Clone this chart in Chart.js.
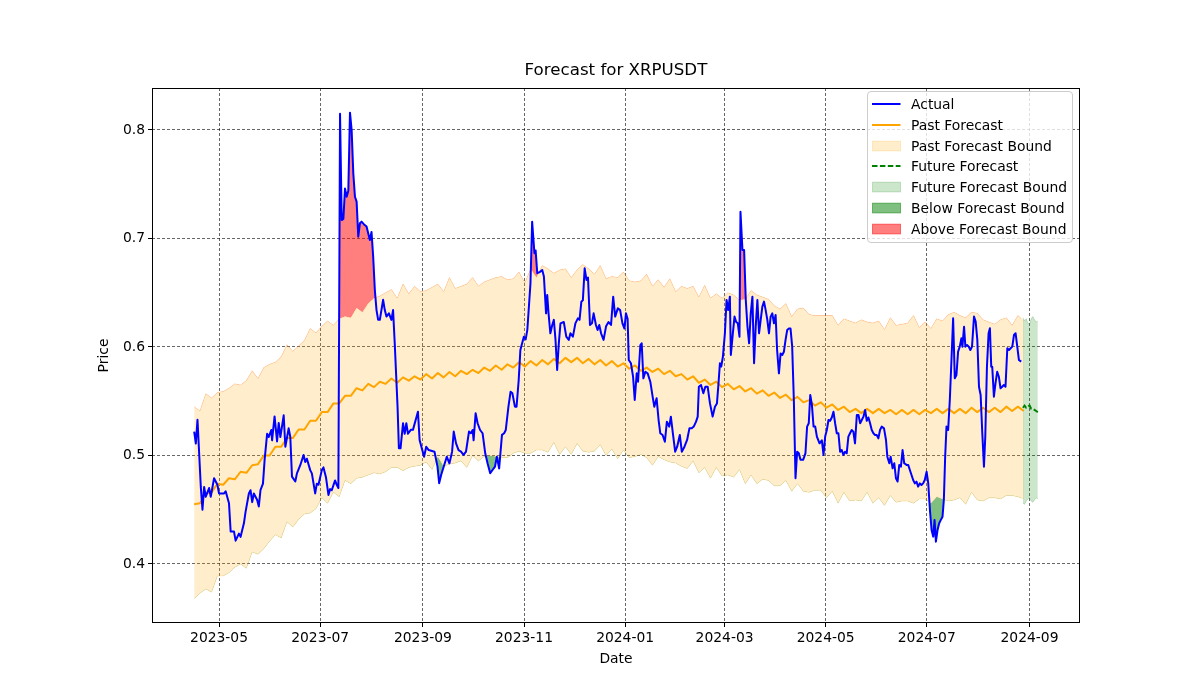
<!DOCTYPE html>
<html>
<head>
<meta charset="utf-8">
<script src="https://cdn.jsdelivr.net/npm/chart.js@4.4.1/dist/chart.umd.min.js"></script>
<style>
  html, body { margin: 0; padding: 0; background: #fff; }
  #wrap { position: relative; width: 1200px; height: 700px; background: #fff; font-family: 'DejaVu Sans', sans-serif; }
  #c { position: absolute; left: 0; top: 0; display: block; }
  #title { position: absolute; left: 416px; width: 400px; top: 60px; text-align: center; font-size: 16.67px; line-height: 20px; color: #000; white-space: nowrap; }
  #legend { position: absolute; left: 867px; top: 91px; width: 206px; height: 152px; box-sizing: border-box; border: 1px solid #cccccc; border-radius: 4px; background: rgba(255,255,255,0.8); }
  .row { position: absolute; left: 0; height: 16px; width: 200px; }
  .row svg { position: absolute; left: 4px; top: 0; }
  .row span { position: absolute; left: 43px; top: 0; font-size: 13.89px; line-height: 16px; color: #000; white-space: nowrap; }
</style>
</head>
<body>
<div id="wrap">
  <canvas id="c" width="1200" height="700"></canvas>
  <div id="title">Forecast for XRPUSDT</div>
  <div id="legend"></div>
</div>
<script>
// ---------------- DATA ----------------
const ORIGIN = Date.UTC(2023, 3, 16); // day 0 = 2023-04-16
const tickLabels = ['2023-05','2023-07','2023-09','2023-11','2024-01','2024-03','2024-05','2024-07','2024-09'];
const yTicks = [0.4, 0.5, 0.6, 0.7, 0.8];

// Actual price (day offset, price)
const actualDays = [0,1,2,4,5,6,7,9,10,12,14,15,18,19,21,22,24,25,27,28,30,31,33,34,35,36,38,39,40,41.5,42.5,44,45,46.5,47,48.5,50,51,52,54,55,57,58,59,61,62,64,66,67,68,70,71,73,74,75,77,78,79.5,81,82,83,85,86,87,
88,89,90,91,92,93,94,95,96,97,98,99,100,101,102.5,104,106,107,108,109,110,111,112,114,115,116,117.5,119,120,121,122.7,123.5,124.5,126,127,128,129,130.7,132,135,136,138.7,140,141.5,
145,146.8,147.8,149,152.4,154,155.6,156.6,158,159.5,161,162.5,164,165.8,167,168,168.6,169.8,171,172.5,174,175.6,177,178.6,180,181.5,182.6,184,185.7,187,188,189.6,190.9,192,193.5,194.5,195.8,196.8,198.9,200,201,
202.9,203.9,205.3,206,207,208.5,210,211,212.3,213,213.8,214.9,216,217,218,219,220,221,223,224.5,226,227,228.5,230,231.5,232.5,233.6,234.5,235.6,236.7,237.6,238.8,240,241,242.4,243.4,244.4,245.5,247,248.5,250,251.5,252.8,254,255.6,257,258.4,259.6,260.5,261.5,
262.2,263.5,264.8,265.8,267,267.8,269.2,270,271,272.2,273.6,275.2,276.6,277.6,279,280.2,281.2,282.6,284,285.2,286.6,287.6,288.8,290.2,291.4,293,294.2,295.8,297.4,298.8,300.2,301.4,302.8,303.8,304.5,305.8,307.2,308.4,309.8,311.2,312.8,314.2,315.4,316.2,317.2,318,319,
320.2,321.2,322.2,323.2,323.8,325,326,327,328,329,329.6,330.8,331.8,332.8,333.8,334.8,335.8,336.8,337.8,338.8,339.8,340.8,341.8,342.8,343.8,344.8,345.8,346.8,347.8,348.8,349.8,350.8,351.7,352.8,353.8,354.8,355.8,356.8,357.8,358.8,359.8,360.8,361.8,362.8,363.8,364.8,365.8,367.4,368.8,369.8,370.8,
371.7,372.7,373.7,374.7,375.7,377.3,378.7,379.7,380.7,381.7,382.7,383.7,384.7,385.7,386.7,387.7,388.7,389.7,390.7,391.7,392.7,393.7,394.7,395.7,396.7,397.7,398.7,399.8,400.8,401.8,402.8,403.8,404.8,405.8,406.8,407.8,408.8,409.8,410.8,411.8,412.8,413.8,414.8,416.2,417.4,418.2,419.4,420.2,421.4,422.4,423.4,424.4,425.4,426.4,427.4,428.4,429.8,430.8,431.8,432.8,433.8,434.8,435.8,436.8,437.8,438.8,439.8,440.8,441.9,442.9,
443.9,444.9,445.9,446.7,447.5,448.5,449.5,450.5,451.5,452.3,453.1,453.9,454.9,455.9,456.9,457.9,458.9,459.9,460.9,461.9,462.9,463.5,464.5,465.3,466.3,467.3,468.3,469.3,470.5,471.5,472.5,473.5,474.5,475.5,476.5,477.3,478.3,479.3,480.1,480.9,481.5,482.5,483.5,484.5,485.5,486.5,487.5,488.5,489.5,490.6,491.6,492.6,493.6,494.6,495.6,496.6,497.6,499];
const actualPrices = [.522,.511,.533,.471,.450,.471,.462,.470,.462,.479,.473,.465,.465,.467,.456,.430,.430,.4215,.428,.425,.4375,.448,.465,.468,.457,.465,.459,.453,.468,.474,.496,.520,.517,.5235,.514,.536,.513,.530,.517,.537,.508,.525,.517,.4805,.476,.4835,.491,.5005,.494,.497,.4865,.4835,.465,.474,.473,.4865,.489,.480,.4636,.469,.468,.477,.473,.470,
.815,.717,.718,.746,.7385,.744,.816,.800,.760,.7385,.734,.7017,.714,.7155,.713,.711,.6986,.706,.683,.6525,.634,.625,.625,.6435,.634,.628,.631,.625,.634,.6034,.545,.5066,.5066,.5297,.520,.5297,.520,.5236,.5236,.5404,.5143,.4989,.508,.505,
.5035,.4897,.4744,.482,.4989,.4928,.5035,.522,.5112,.505,.5035,.5005,.5035,.522,.5205,.5235,.514,.5389,.5297,.5235,.5205,.502,.4928,.4836,.4866,.4897,.4989,.488,.519,.5205,.5235,.545,.5588,.5573,.545,.545,.5696,.5972,.6095,.607,.6157,
.6587,.7155,.6864,.689,.668,.669,.671,.665,.631,.648,.631,.6126,.620,.625,.6065,.5788,.6034,.6218,.623,.6095,.6065,.6126,.6095,.6218,.6264,.625,.6418,.643,.6725,.6618,.664,.6203,.6218,.631,.6203,.6157,.6203,.6126,.6065,.619,.623,.6203,.6464,.628,.6356,.634,.6218,.617,.631,.626,
.588,.585,.5726,.5511,.5757,.568,.6018,.6034,.5711,.5772,.5757,.568,.5542,.545,.5527,.5327,.5205,.5189,.5127,.5312,.5266,.5358,.5205,.5035,.5081,.5189,.5035,.5081,.5143,.525,.525,.5266,.5312,.5358,.5634,.565,.5573,.5634,.5634,.548,.5358,.545,.548,.5634,.585,.582,.591,
.6126,.6433,.634,.6464,.5926,.6126,.628,.623,.6218,.6095,.7247,.6894,.6894,.6433,.619,.6034,.631,.6464,.585,.619,.6433,.6126,.625,.6372,.6418,.634,.625,.6126,.628,.631,.6218,.6295,.5972,.5757,.5941,.5926,.5956,.6065,.6157,.617,.617,.6003,.5511,.479,.5035,.502,.496,.496,.502,.5266,.5297,
.5558,.5465,.5266,.5266,.5174,.5112,.514,.5005,.5174,.5235,.5327,.532,.535,.5404,.5297,.5205,.5205,.5035,.505,.5005,.5035,.502,.5174,.5205,.5235,.522,.5112,.5373,.5373,.5297,.5327,.5358,.5419,.532,.535,.5297,.5235,.5205,.5189,.5189,.5158,.5235,.5266,.525,.5143,.4989,.4928,.4989,.4882,.4928,.479,.476,.4913,.4897,.505,.4928,.4913,.4913,.4866,.482,.4774,.4743,.4759,.4713,.4743,.4728,.4743,.4774,.4851,.4743,
.4498,.4313,.4252,.4406,.4206,.4313,.4375,.4406,.4436,.459,.4989,.5266,.5235,.5511,.588,.6264,.5711,.5742,.5957,.6003,.608,.6003,.6187,.6003,.6018,.6003,.5972,.6003,.628,.6234,.6065,.5634,.5558,.5205,.4897,.5174,.5818,.6126,.6172,.5818,.5818,.5542,.567,.5772,.5726,.5619,.5634,.5649,.5634,.5988,.5972,.5988,.6003,.611,.6126,.6003,.588,.5865];

// Past forecast and its bound, sampled every 3.5 days from day 0
const forecastPrices = [.455,.456,.465,.466,.474,.473,.479,.478,.485,.484,
 .491,.492,.500,.500,.508,.508,.516,.516,.524,.524,
 .532,.532,.540,.540,.548,.548,.555,.555,.562,.560,
 .566,.563,.568,.566,.571,.567,.572,.569,.573,.570,
 .575,.571,.576,.572,.577,.573,.578,.575,.579,.576,
 .581,.578,.583,.579,.584,.581,.586,.582,.587,.583,
 .588,.584,.589,.585,.590,.586,.590,.585,.589,.584,
 .588,.583,.587,.582,.585,.580,.583,.578,.581,.577,
 .580,.575,.578,.573,.575,.570,.573,.567,.570,.565,
 .568,.563,.566,.561,.564,.559,.562,.557,.560,.555,
 .558,.553,.556,.551,.554,.549,.551,.546,.549,.544,
 .547,.542,.545,.540,.543,.539,.543,.539,.543,.539,
 .542,.538,.542,.538,.542,.538,.542,.539,.543,.539,
 .543,.539,.543,.539,.544,.540,.544,.540,.544,.540,
 .545,.541,.545,.541];
const upperBound = [.545,.541,.557,.553,.558,.559,.562,.566,.565,.569,
 .578,.571,.581,.584,.586,.591,.602,.596,.601,.606,
 .617,.613,.619,.624,.620,.626,.628,.627,.636,.632,
 .640,.645,.647,.650,.653,.645,.658,.649,.656,.651,
 .652,.655,.658,.651,.664,.654,.656,.658,.664,.656,
 .660,.662,.664,.665,.662,.663,.669,.659,.672,.664,
 .675,.672,.668,.671,.672,.664,.671,.676,.672,.667,
 .675,.663,.665,.664,.669,.661,.660,.661,.667,.656,
 .662,.655,.663,.651,.656,.654,.656,.646,.657,.645,
 .649,.645,.650,.648,.643,.644,.652,.648,.646,.644,
 .638,.635,.640,.628,.635,.636,.630,.629,.629,.629,
 .629,.620,.626,.624,.622,.625,.623,.622,.624,.616,
 .627,.620,.621,.622,.629,.618,.623,.617,.626,.624,
 .630,.632,.629,.627,.632,.631,.625,.623,.621,.625,
 .627,.620,.629,.624];
const lowerBound = [.368,.373,.377,.374,.389,.389,.392,.397,.400,.396,
 .411,.409,.414,.421,.427,.424,.439,.434,.441,.446,
 .447,.451,.461,.456,.466,.462,.477,.474,.479,.480,
 .482,.484,.483,.485,.489,.489,.486,.489,.490,.491,
 .494,.487,.499,.490,.492,.493,.495,.489,.500,.495,
 .499,.500,.499,.498,.498,.502,.504,.502,.502,.505,
 .505,.503,.512,.501,.508,.501,.511,.504,.503,.504,
 .510,.500,.506,.497,.505,.498,.499,.501,.498,.491,
 .499,.496,.494,.493,.490,.488,.495,.484,.489,.479,
 .489,.481,.482,.480,.487,.474,.482,.474,.478,.477,
 .472,.472,.477,.467,.474,.467,.466,.468,.468,.461,
 .467,.456,.466,.458,.459,.458,.466,.456,.461,.454,
 .463,.457,.458,.458,.456,.460,.460,.456,.462,.460,
 .458,.459,.461,.455,.466,.459,.458,.461,.461,.460,
 .463,.463,.462,.460];

// Future forecast
const futureDays = [500,501,502,503,504,505,506,507,508,509];
const futureForecast = [.544,.546,.544,.545,.546,.543,.543,.542,.541,.540];
const futureUpper = [.627,.624,.626,.622,.621,.626,.628,.625,.623,.624];
const futureLower = [.456,.455,.458,.460,.461,.458,.457,.459,.461,.460];

const legendItems = [
  {label: 'Actual', kind: 'line', color: '#0000ff'},
  {label: 'Past Forecast', kind: 'line', color: '#ffa500'},
  {label: 'Past Forecast Bound', kind: 'patch', color: 'rgba(255,165,0,0.2)'},
  {label: 'Future Forecast', kind: 'dash', color: '#008000'},
  {label: 'Future Forecast Bound', kind: 'patch', color: 'rgba(0,128,0,0.2)'},
  {label: 'Below Forecast Bound', kind: 'patch', color: 'rgba(0,128,0,0.5)'},
  {label: 'Above Forecast Bound', kind: 'patch', color: 'rgba(255,0,0,0.5)'}
];

// ---------------- BUILD ----------------
const dayOf = s => { const [y, m] = s.split('-').map(Number); return (Date.UTC(y, m - 1, 1) - ORIGIN) / 864e5; };
const tickDays = tickLabels.map(dayOf);
const boundDays = forecastPrices.map((_, i) => i * 3.5);
const pts = (xs, ys) => ys.map((y, i) => ({x: xs[i], y}));

const FONT = {family: "'DejaVu Sans', sans-serif", size: 13.89};
const NONE = 'rgba(0,0,0,0)';

const datasets = [
  {label: 'Past Forecast Bound', data: pts(boundDays, upperBound), fill: 1, backgroundColor: 'rgba(255,165,0,0.2)', borderColor: 'rgba(255,165,0,0.2)', borderWidth: 1, pointRadius: 0, order: 10},
  {label: 'lower', data: pts(boundDays, lowerBound), fill: false, borderColor: 'rgba(255,165,0,0.2)', borderWidth: 1, pointRadius: 0, order: 10},
  {label: 'Future Forecast Bound', data: pts(futureDays, futureUpper), fill: 3, backgroundColor: 'rgba(0,128,0,0.2)', borderColor: 'rgba(0,128,0,0.2)', borderWidth: 1, pointRadius: 0, order: 9},
  {label: 'futLower', data: pts(futureDays, futureLower), fill: false, borderColor: 'rgba(0,128,0,0.2)', borderWidth: 1, pointRadius: 0, order: 9},
  {label: 'Above Forecast Bound', data: pts(actualDays, actualPrices), fill: {target: 0, above: 'rgba(255,0,0,0.5)', below: NONE}, borderColor: NONE, borderWidth: 0, pointRadius: 0, order: 8},
  {label: 'Below Forecast Bound', data: pts(actualDays, actualPrices), fill: {target: 1, above: NONE, below: 'rgba(0,128,0,0.5)'}, borderColor: NONE, borderWidth: 0, pointRadius: 0, order: 8},
  {label: 'Past Forecast', data: pts(boundDays, forecastPrices), fill: false, borderColor: '#ffa500', borderWidth: 2, pointRadius: 0, borderJoinStyle: 'round', order: 2},
  {label: 'Future Forecast', data: pts(futureDays, futureForecast), fill: false, borderColor: '#008000', borderWidth: 2, borderDash: [5.5, 2.4], pointRadius: 0, order: 2},
  {label: 'Actual', data: pts(actualDays, actualPrices), fill: false, borderColor: '#0000ff', borderWidth: 2, pointRadius: 0, borderJoinStyle: 'round', order: 1}
];

const framePlugin = {
  id: 'frame',
  afterDraw(chart) {
    const {ctx, chartArea: a} = chart;
    ctx.save();
    ctx.strokeStyle = '#000';
    ctx.lineWidth = 1;
    ctx.strokeRect(a.left + 0.5, a.top + 0.5, a.right - a.left - 1, a.bottom - a.top - 1);
    ctx.restore();
  }
};

const gridCommon = {color: '#000', lineWidth: 0.6, drawTicks: true, tickLength: 4, tickColor: '#000', tickWidth: 1};

new Chart(document.getElementById('c'), {
  type: 'line',
  data: {datasets},
  plugins: [framePlugin],
  options: {
    responsive: false,
    animation: false,
    devicePixelRatio: 1,
    events: [],
    layout: {padding: {left: 0, top: 88, right: 120, bottom: 0}},
    plugins: {legend: {display: false}, tooltip: {enabled: false}, title: {display: false}},
    scales: {
      x: {
        type: 'linear', min: -25.45, max: 534.45,
        afterBuildTicks: s => { s.ticks = tickDays.map(v => ({value: v})); },
        afterFit: s => { s.height = 77; },
        ticks: {autoSkip: false, maxRotation: 0, minRotation: 0, padding: 3, color: '#000', font: FONT,
                callback: (v, i) => tickLabels[i]},
        grid: gridCommon,
        border: {display: false, dash: [3, 2]},
        title: {display: true, text: 'Date', color: '#000', font: FONT, padding: {top: 0, bottom: 32.7}}
      },
      y: {
        type: 'linear', min: 0.3456, max: 0.8387,
        afterBuildTicks: s => { s.ticks = yTicks.map(v => ({value: v})); },
        afterFit: s => { s.width = 152; },
        ticks: {padding: 3, color: '#000', font: FONT, callback: v => Number(v).toFixed(1)},
        grid: gridCommon,
        border: {display: false, dash: [3, 2]},
        title: {display: true, text: 'Price', color: '#000', font: FONT, padding: {top: 96.5, bottom: 0}}
      }
    }
  }
});

// HTML legend (matplotlib-style box)
const leg = document.getElementById('legend');
legendItems.forEach((it, i) => {
  const row = document.createElement('div');
  row.className = 'row';
  row.style.top = (3.9 + 20.85 * i) + 'px';
  let svg;
  if (it.kind === 'patch') {
    svg = `<svg width="30" height="16"><rect x="0.5" y="3.2" width="28" height="9.7" fill="${it.color}" stroke="${it.color}" stroke-width="1"/></svg>`;
  } else if (it.kind === 'dash') {
    svg = `<svg width="30" height="16"><line x1="0" y1="8" x2="28.5" y2="8" stroke="${it.color}" stroke-width="2" stroke-dasharray="5.5 2.4"/></svg>`;
  } else {
    svg = `<svg width="30" height="16"><line x1="0" y1="8" x2="28.5" y2="8" stroke="${it.color}" stroke-width="2"/></svg>`;
  }
  row.innerHTML = svg + `<span>${it.label}</span>`;
  leg.appendChild(row);
});
</script>
</body>
</html>
